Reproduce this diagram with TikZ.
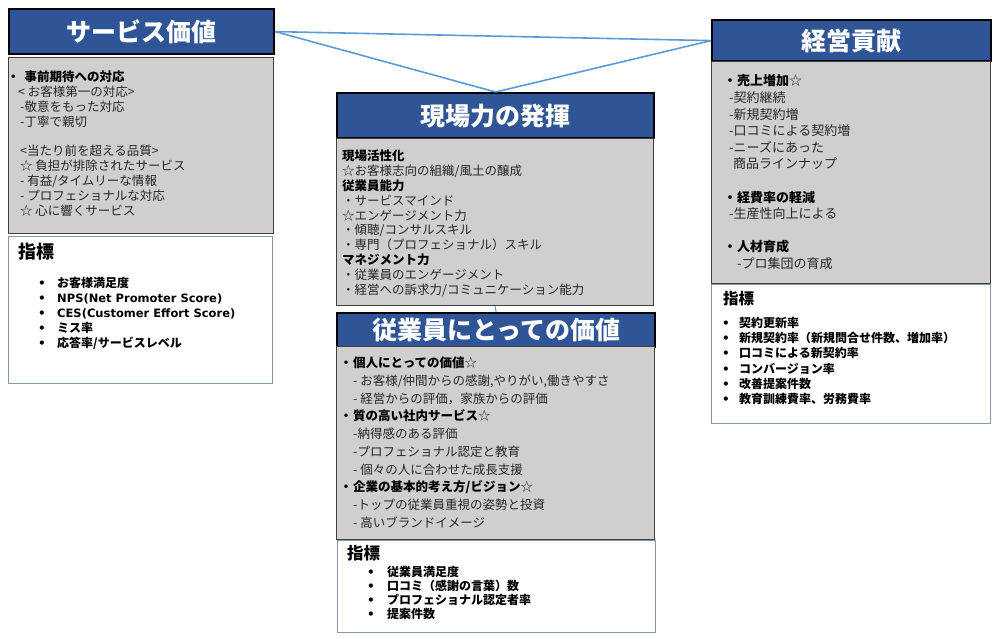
\documentclass[tikz,border=0pt]{standalone}
\usepackage{fontspec}
\setmainfont{Noto Sans CJK JP}
\newfontfamily\lat{DejaVu Sans}
\definecolor{tblue}{RGB}{47,85,151}
\definecolor{gfill}{RGB}{208,206,206}
\definecolor{gborder}{RGB}{64,64,64}
\definecolor{iborder}{RGB}{132,151,176}
\definecolor{lblue}{RGB}{91,155,213}
\definecolor{tdark}{RGB}{38,38,38}
\tikzset{
  titlebox/.style={draw=black, line width=2.2pt, fill=tblue, anchor=north west, inner sep=0pt, text=white, font=\fontsize{25}{28}\selectfont\bfseries},
  graybox/.style={draw=gborder, line width=1pt, fill=gfill, anchor=north west, inner sep=0pt},
  indbox/.style={draw=iborder, line width=1pt, fill=white, anchor=north west, inner sep=0pt},
  bodytext/.style={anchor=north west, inner sep=0pt, align=left, text=tdark},
  indhead/.style={anchor=west, inner sep=0pt, text=black, font=\bfseries},
  inditems/.style={anchor=north west, inner sep=0pt, align=left, text=black},
  link/.style={draw=lblue, line width=1.6pt}
}
\begin{document}
\begin{tikzpicture}[x=1pt, y=-1pt]
\useasboundingbox (0,0) rectangle (1000,638);
% ---------- left column ----------
\node[titlebox, minimum width=265pt, minimum height=45pt] (svT) at (8,8) {サービス価値};
\node[graybox, minimum width=265pt, minimum height=176pt] (svG) at (8,57) {};
\node[indbox, minimum width=264pt, minimum height=147pt] (svI) at (8,236) {};
\node[bodytext, font=\fontsize{12.5}{14.8}\selectfont] (svTx) at (7,71) {%
{\bfseries\color{black}・\hspace{5pt}事前期待への対応}\\
\hspace*{11pt}< お客様第一の対応>\\
\hspace*{13pt}-敬意をもった対応\\
\hspace*{13pt}-丁寧で親切\\
~\\
\hspace*{13pt}<当たり前を超える品質>\\
\hspace*{13pt}☆ 負担が排除されたサービス\\
\hspace*{13pt}- 有益/タイムリーな情報\\
\hspace*{13pt}- プロフェショナルな対応\\
\hspace*{13pt}☆ 心に響くサービス};
\node[indhead, font=\fontsize{18}{20}\selectfont\bfseries] (svH) at (18,252) {指標};
\node[inditems, font=\fontsize{12}{15}\selectfont\bfseries] (svL) at (38,277) {%
\makebox[19pt][l]{\lat•}お客様満足度\\
\makebox[19pt][l]{\lat•}{\lat\fontsize{11.5}{15}\selectfont NPS(Net Promoter Score)}\\
\makebox[19pt][l]{\lat•}{\lat\fontsize{11.5}{15}\selectfont CES(Customer Effort Score)}\\
\makebox[19pt][l]{\lat•}ミス率\\
\makebox[19pt][l]{\lat•}応答率/サービスレベル};
% ---------- middle column ----------
\node[titlebox, minimum width=317pt, minimum height=45pt] (gbT) at (336,92) {現場力の発揮};
\node[graybox, minimum width=317pt, minimum height=167pt] (gbG) at (336,138) {};
\node[bodytext, font=\fontsize{12.5}{14.8}\selectfont] (gbTx) at (342,150) {%
{\bfseries\color{black}現場活性化}\\
☆お客様志向の組織/風土の醸成\\
{\bfseries\color{black}従業員能力}\\
・サービスマインド\\
☆エンゲージメント力\\
・傾聴/コンサルスキル\\
・専門（プロフェショナル）スキル\\
{\bfseries\color{black}マネジメント力}\\
・従業員のエンゲージメント\\
・経営への訴求力/コミュニケーション能力};
\node[titlebox, minimum width=318pt, minimum height=34pt] (emT) at (336,312) {従業員にとっての価値};
\node[graybox, minimum width=318pt, minimum height=193pt] (emG) at (336,346) {};
\node[bodytext, font=\fontsize{12.5}{17.7}\selectfont] (emTx) at (339,357) {%
{\bfseries\color{black}\makebox[14pt][c]{・}個人にとっての価値}☆\\
\hspace*{14pt}- お客様/仲間からの感謝,やりがい,働きやすさ\\
\hspace*{14pt}- 経営からの評価，家族からの評価\\
{\bfseries\color{black}\makebox[14pt][c]{・}質の高い社内サービス}☆\\
\hspace*{14pt}-納得感のある評価\\
\hspace*{14pt}-プロフェショナル認定と教育\\
\hspace*{14pt}- 個々の人に合わせた成長支援\\
{\bfseries\color{black}\makebox[14pt][c]{・}企業の基本的考え方/ビジョン}☆\\
\hspace*{14pt}-トップの従業員重視の姿勢と投資\\
\hspace*{14pt}- 高いブランドイメージ};
\node[indbox, minimum width=318pt, minimum height=92pt] (emI) at (337,540) {};
\node[indhead, font=\fontsize{16.5}{18}\selectfont\bfseries] (emH) at (347,553) {指標};
\node[inditems, font=\fontsize{12}{14}\selectfont\bfseries] (emL) at (367,566) {%
\makebox[20pt][l]{\lat•}従業員満足度\\
\makebox[20pt][l]{\lat•}口コミ（感謝の言葉）数\\
\makebox[20pt][l]{\lat•}プロフェショナル認定者率\\
\makebox[20pt][l]{\lat•}提案件数};
% ---------- right column ----------
\node[titlebox, minimum width=279pt, minimum height=41pt] (keT) at (711,19) {経営貢献};
\node[graybox, minimum width=279pt, minimum height=222pt] (keG) at (711,61) {};
\node[bodytext, font=\fontsize{13}{16.6}\selectfont] (keTx) at (723,74.5) {%
{\bfseries\color{black}\makebox[14pt][c]{・}売上増加}☆\\
\hspace*{6pt}-契約継続\\
\hspace*{6pt}-新規契約増\\
\hspace*{6pt}-口コミによる契約増\\
\hspace*{6pt}-ニーズにあった\\
\hspace*{10pt}商品ラインナップ\\
~\\
{\bfseries\color{black}\makebox[14pt][c]{・}経費率の軽減}\\
\hspace*{6pt}-生産性向上による\\
~\\
{\bfseries\color{black}\makebox[14pt][c]{・}人材育成}\\
\hspace*{14pt}-プロ集団の育成};
\node[indbox, minimum width=279pt, minimum height=139pt] (keI) at (711,284) {};
\node[indhead, font=\fontsize{15.5}{17}\selectfont\bfseries] (keH) at (723,299) {指標};
\node[inditems, font=\fontsize{12}{15.2}\selectfont\bfseries] (keL) at (722,317) {%
\makebox[17pt][l]{\lat•}契約更新率\\
\makebox[17pt][l]{\lat•}新規契約率（新規問合せ件数、増加率）\\
\makebox[17pt][l]{\lat•}口コミによる新契約率\\
\makebox[17pt][l]{\lat•}コンバージョン率\\
\makebox[17pt][l]{\lat•}改善提案件数\\
\makebox[17pt][l]{\lat•}教育訓練費率、労務費率};
% ---------- connectors ----------
\draw[link] (svT.east) -- (keT.west);
\draw[link] (svT.east) -- (gbT.north);
\draw[link] (keT.west) -- (gbT.north);
\draw[link, line width=1pt] (gbG.south) -- (emT.north);
\end{tikzpicture}
\end{document}
